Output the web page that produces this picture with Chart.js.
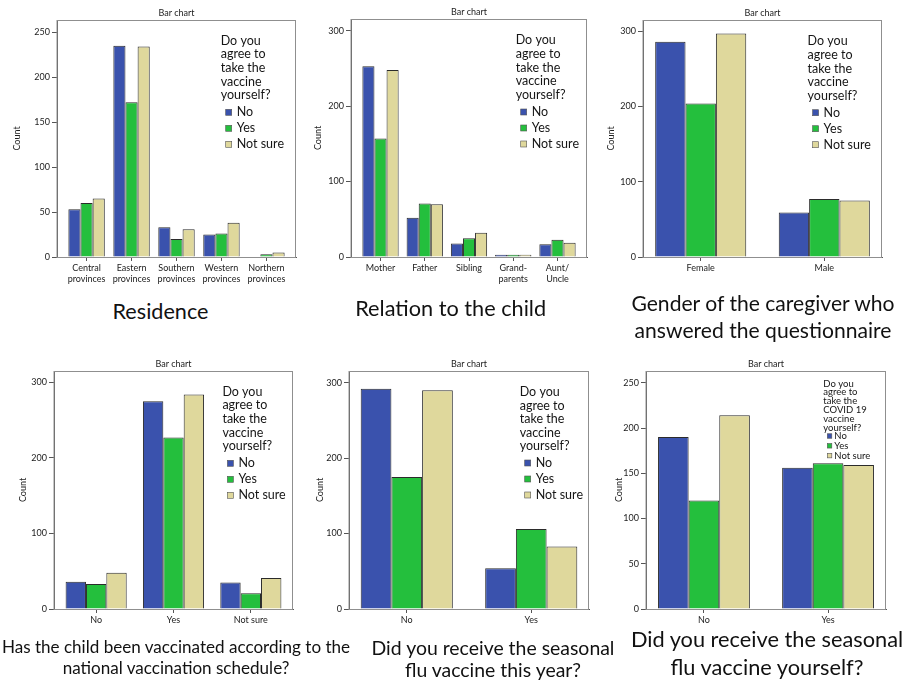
<!DOCTYPE html>
<html><head><meta charset="utf-8">
<script src="https://cdn.jsdelivr.net/npm/chart.js@4/dist/chart.umd.min.js"></script>
<style>
html,body{margin:0;padding:0;background:#fff;}
body{width:913px;height:684px;position:relative;overflow:hidden;font-family:Lato,sans-serif;}
.panel{position:absolute;}
.cap{position:absolute;white-space:nowrap;color:#111;line-height:1;transform:translate(-50%,-50%);font-family:Lato,sans-serif;}
</style></head><body>
<script>
// ---------- data ----------
const seriesLabels = ['No', 'Yes', 'Not sure'];
const legendTitleA = ['Do you', 'agree to', 'take the', 'vaccine', 'yourself?'];
const legendTitleB = ['Do you', 'agree to', 'take the', 'COVID 19', 'vaccine', 'yourself?'];

const residenceCats = [['Central', 'provinces'], ['Eastern', 'provinces'], ['Southern', 'provinces'], ['Western', 'provinces'], ['Northern', 'provinces']];
const residenceNo = [53, 235, 33, 25, 0];
const residenceYes = [60, 172, 20, 26, 3];
const residenceNotSure = [65, 234, 31, 38, 5];

const relationCats = ['Mother', 'Father', 'Sibling', ['Grand-', 'parents'], ['Aunt/', 'Uncle']];
const relationNo = [253, 52, 18, 3, 17];
const relationYes = [157, 71, 25, 3, 23];
const relationNotSure = [248, 70, 32, 3, 19];

const genderCats = ['Female', 'Male'];
const genderNo = [286, 59];
const genderYes = [204, 77];
const genderNotSure = [297, 75];

const vaccinatedCats = ['No', 'Yes', 'Not sure'];
const vaccinatedNo = [36, 275, 35];
const vaccinatedYes = [33, 227, 21];
const vaccinatedNotSure = [48, 284, 41];

const fluYearCats = ['No', 'Yes'];
const fluYearNo = [292, 54];
const fluYearYes = [175, 106];
const fluYearNotSure = [290, 83];

const fluSelfCats = ['No', 'Yes'];
const fluSelfNo = [190, 156];
const fluSelfYes = [120, 161];
const fluSelfNotSure = [214, 159];

const axisMax = [263.6, 315.5, 315, 315, 315.5, 263];
const axisStep = [50, 100, 100, 100, 100, 50];

const captionTexts = [
  ['Residence'],
  ['Relation to the child'],
  ['Gender of the caregiver who', 'answered the questionnaire'],
  ['Has the child been vaccinated according to the', 'national vaccination schedule?'],
  ['Did you receive the seasonal', 'flu vaccine this year?'],
  ['Did you receive the seasonal', 'flu vaccine yourself?']
];

// ---------- layout / style ----------
const colors = ['#3a52ad', '#24bf3d', '#dfd89c'];
const FONT = 'Lato';
const layoutCfg = [
  {frame: [57, 20, 296, 257], extra: 0.158, catPct: 0.81, countOff: 40,
   lg: {dx: -75.3, ty: 20.7, tlh: 13.6, iy: 92.3, ilh: 16, font: 12.5, sq: 6, sqdx: 5, txdx: 16}},
  {frame: [351, 19, 587, 257], extra: 0.167, catPct: 0.82, countOff: 33.4,
   lg: {dx: -71.3, ty: 21.4, tlh: 13.6, iy: 93, ilh: 16, font: 12.5, sq: 6, sqdx: 5, txdx: 16}},
  {frame: [643, 20, 882, 257], extra: -0.033, catPct: 0.737, countOff: 32,
   lg: {dx: -74.4, ty: 21.3, tlh: 13.6, iy: 92.7, ilh: 16, font: 12.5, sq: 6, sqdx: 5, txdx: 16}},
  {frame: [54, 371, 293, 609], extra: 0.045, catPct: 0.79, countOff: 31,
   lg: {dx: -70.6, ty: 20.7, tlh: 13.6, iy: 92.3, ilh: 16, font: 12.5, sq: 6, sqdx: 5, txdx: 16}},
  {frame: [349, 371, 589, 609], extra: -0.036, catPct: 0.74, countOff: 28.6,
   lg: {dx: -69.3, ty: 21, tlh: 13.6, iy: 92, ilh: 16, font: 12.5, sq: 6, sqdx: 5, txdx: 16}},
  {frame: [646, 371, 886, 609], extra: -0.033, catPct: 0.74, countOff: 27.4,
   lg: {dx: -62.7, ty: 12.6, tlh: 8.8, iy: 65, ilh: 9.8, font: 9.5, sq: 4.5, sqdx: 4, txdx: 11}}
];
const captionLayout = [
  {cx: 160.5, ys: [311.5], ws: [96]},
  {cx: 450.7, ys: [309], ws: [191]},
  {cx: 763, ys: [303, 330], ws: [262, 260]},
  {cx: 176, ys: [646.7, 668.3], ws: [349, 227]},
  {cx: 493, ys: [648.3, 670], ws: [241, 179]},
  {cx: 767, ys: [640, 668.3], ws: [273, 194]}
];

const panelsData = [
  {cats: residenceCats, series: [residenceNo, residenceYes, residenceNotSure], title: legendTitleA},
  {cats: relationCats, series: [relationNo, relationYes, relationNotSure], title: legendTitleA},
  {cats: genderCats, series: [genderNo, genderYes, genderNotSure], title: legendTitleA},
  {cats: vaccinatedCats, series: [vaccinatedNo, vaccinatedYes, vaccinatedNotSure], title: legendTitleA},
  {cats: fluYearCats, series: [fluYearNo, fluYearYes, fluYearNotSure], title: legendTitleA},
  {cats: fluSelfCats, series: [fluSelfNo, fluSelfYes, fluSelfNotSure], title: legendTitleB}
];

const framePlugin = {
  id: 'frameLegend',
  beforeDatasetsDraw(chart) {
    const {ctx, chartArea: a} = chart;
    ctx.save();
    ctx.strokeStyle = '#8f8f8f';
    ctx.lineWidth = 1;
    ctx.strokeRect(a.left, a.top + 0.5, a.right - a.left - 0.5, a.bottom - a.top);
    ctx.restore();
  },
  afterDraw(chart, args, opts) {
    const {ctx, chartArea: a} = chart;
    const lg = opts.lg;
    const x0 = a.right + lg.dx;
    ctx.save();
    ctx.font = lg.font + 'px ' + FONT;
    ctx.textBaseline = 'middle';
    ctx.textAlign = 'left';
    ctx.fillStyle = '#151515';
    opts.title.forEach((t, i) => ctx.fillText(t, x0, a.top + lg.ty + i * lg.tlh));
    chart.data.datasets.forEach((ds, k) => {
      const y = a.top + lg.iy + k * lg.ilh;
      ctx.fillStyle = ds.backgroundColor;
      ctx.fillRect(x0 + lg.sqdx, y - lg.sq / 2, lg.sq, lg.sq);
      ctx.strokeStyle = '#555';
      ctx.lineWidth = 0.6;
      ctx.strokeRect(x0 + lg.sqdx, y - lg.sq / 2, lg.sq, lg.sq);
      ctx.fillStyle = '#151515';
      ctx.fillText(ds.label, x0 + lg.txdx, y);
    });
    ctx.restore();
  }
};

panelsData.forEach((p, i) => {
  const cfg = layoutCfg[i];
  const [L, T, R, B] = cfg.frame;
  const left = L - 50, top = T - 20;
  const w = R + 8 - left, h = B + 35 - top;
  const div = document.createElement('div');
  div.className = 'panel';
  div.style.left = left + 'px'; div.style.top = top + 'px';
  div.style.width = w + 'px'; div.style.height = h + 'px';
  const cv = document.createElement('canvas');
  div.appendChild(cv);
  document.body.appendChild(div);
  const tickFont = {family: FONT, size: 9, lineHeight: 1.2};
  new Chart(cv, {
    type: 'bar',
    data: {
      labels: p.cats,
      datasets: p.series.map((d, k) => ({
        label: seriesLabels[k], data: d, backgroundColor: colors[k],
        borderColor: '#2b2b2b', borderWidth: 1,
        categoryPercentage: cfg.catPct, barPercentage: 1
      }))
    },
    options: {
      responsive: true, maintainAspectRatio: false, animation: false,
      layout: {padding: {left: 0, right: 8, top: 0, bottom: 0}},
      plugins: {
        legend: {display: false},
        tooltip: {enabled: false},
        title: {display: true, text: 'Bar chart', fullSize: false, color: '#222',
                font: {family: FONT, size: 9, lineHeight: 1.2, weight: 'normal'},
                padding: {top: 7.3, bottom: 1.9}},
        frameLegend: {lg: cfg.lg, title: p.title}
      },
      scales: {
        x: {
          offset: true,
          grid: {display: true, drawOnChartArea: false, drawTicks: true, tickLength: 4, offset: false, color: '#555'},
          border: {display: true, color: '#555'},
          ticks: {color: '#222', font: tickFont, padding: 2, maxRotation: 0, autoSkip: false},
          afterFit: s => { s.height = 35; },
          afterBuildTicks: s => { s._startValue -= cfg.extra; s._valueRange += 2 * cfg.extra; }
        },
        y: {
          min: 0, max: axisMax[i],
          ticks: {stepSize: axisStep[i], includeBounds: false, color: '#222', font: tickFont, padding: 2},
          grid: {drawOnChartArea: false, drawTicks: true, tickLength: 5, color: '#555'},
          border: {display: true, color: '#555'},
          title: {display: true, text: 'Count', color: '#222', font: tickFont,
                  padding: {top: 50 - cfg.countOff - 5.4, bottom: 0}},
          afterFit: s => { s.width = 50; }
        }
      }
    },
    plugins: [framePlugin]
  });
});

// captions
const mctx = document.createElement('canvas').getContext('2d');
captionTexts.forEach((lines, i) => {
  const cl = captionLayout[i];
  let sizes = lines.map((t, j) => { mctx.font = '100px ' + FONT; return 100 * cl.ws[j] / mctx.measureText(t).width; });
  const s = sizes.reduce((a, b) => a + b, 0) / sizes.length;
  lines.forEach((t, j) => {
    const d = document.createElement('div');
    d.className = 'cap';
    d.textContent = t;
    d.style.fontSize = s.toFixed(2) + 'px';
    d.style.left = cl.cx + 'px';
    d.style.top = cl.ys[j] + 'px';
    document.body.appendChild(d);
  });
});
</script>
</body></html>
